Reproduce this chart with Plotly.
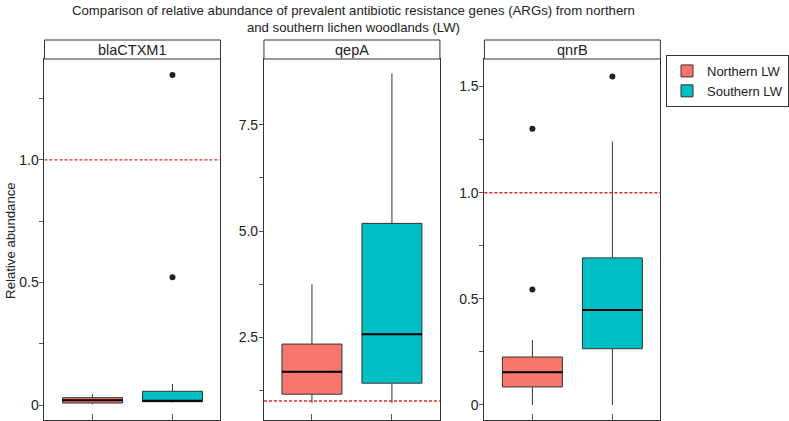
import plotly.graph_objects as go

# ---------------- data ----------------
genes = ["blaCTXM1", "qepA", "qnrB"]
groups = ["Northern LW", "Southern LW"]

north_lower = [0.003, 0.95, 0.0]
north_q1 = [0.008, 1.16, 0.085]
north_median = [0.019, 1.69, 0.154]
north_q3 = [0.030, 2.34, 0.226]
north_upper = [0.044, 3.75, 0.306]
north_outliers = [[], [], [0.544, 1.301]]

south_lower = [0.010, 0.95, 0.0]
south_q1 = [0.0135, 1.42, 0.265]
south_median = [0.0175, 2.57, 0.447]
south_q3 = [0.056, 5.18, 0.693]
south_upper = [0.086, 8.71, 1.241]
south_outliers = [[0.521, 1.347], [], [1.548]]

reference_level = 1.0

tick_vals = [
    [0, 0.25, 0.5, 0.75, 1.0, 1.25],
    [1.25, 2.5, 3.75, 5.0, 6.25, 7.5],
    [0, 0.25, 0.5, 0.75, 1.0, 1.25, 1.5],
]
tick_text = [
    ["0", "", "0.5", "", "1.0", ""],
    ["", "2.5", "", "5.0", "", "7.5"],
    ["0", "", "0.5", "", "1.0", "", "1.5"],
]

# ---------------- layout / style ----------------
W, H = 789, 421
FONT = "Liberation Sans, Arial, Helvetica, sans-serif"
colors = ["#F8766D", "#00BFC4"]
panel_px = [(45, 223), (267, 445), (490, 668)]
plot_top_px, plot_bot_px = 59, 420
strip_top_px = 40
y_ranges = [(-0.0612, 1.412), (0.553, 9.05), (-0.0707, 1.630)]
box_w = 0.75


def px_x(p):
    return p / W


def px_y(p):
    return (H - p) / H


fig = go.Figure()
shapes = []
annotations = []

stats = [
    (north_lower, north_q1, north_median, north_q3, north_upper, north_outliers),
    (south_lower, south_q1, south_median, south_q3, south_upper, south_outliers),
]

for i, gene in enumerate(genes):
    xa = "x" if i == 0 else f"x{i+1}"
    ya = "y" if i == 0 else f"y{i+1}"
    for g, (lo, q1, med, q3, up, outl) in enumerate(stats):
        xpos = g + 1
        fig.add_trace(go.Box(
            x=[xpos], q1=[q1[i]], median=[med[i]], q3=[q3[i]],
            lowerfence=[lo[i]], upperfence=[up[i]],
            width=box_w, whiskerwidth=0,
            fillcolor=colors[g],
            line=dict(color="#333333", width=1),
            name=groups[g],
            showlegend=(i == 0),
            boxpoints=False,
            xaxis=xa, yaxis=ya, hoverinfo="skip",
        ))
        if outl[i]:
            fig.add_trace(go.Scatter(
                x=[xpos] * len(outl[i]), y=outl[i], mode="markers",
                marker=dict(color="#222222", size=6),
                showlegend=False, xaxis=xa, yaxis=ya, hoverinfo="skip",
            ))
        # thick median line
        shapes.append(dict(
            type="line", xref=xa, yref=ya,
            x0=xpos - box_w / 2, x1=xpos + box_w / 2,
            y0=med[i], y1=med[i],
            line=dict(color="black", width=2), layer="above",
        ))
    # reference dashed line
    shapes.append(dict(
        type="line", xref=f"{xa} domain", yref=ya,
        x0=0, x1=1, y0=reference_level, y1=reference_level,
        line=dict(color="#E0262B", width=1.3, dash="3px,2px"), layer="above",
    ))
    # strip
    x0p, x1p = panel_px[i]
    shapes.append(dict(
        type="rect", xref="paper", yref="paper",
        x0=px_x(x0p), x1=px_x(x1p), y0=px_y(plot_top_px), y1=px_y(strip_top_px),
        line=dict(color="#333333", width=1), fillcolor="white",
    ))
    annotations.append(dict(
        text=gene, xref="paper", yref="paper",
        x=(px_x(x0p) + px_x(x1p)) / 2, y=(px_y(plot_top_px) + px_y(strip_top_px)) / 2,
        showarrow=False, xanchor="center", yanchor="middle",
        font=dict(family=FONT, size=14.5, color="#222222"),
    ))

    axis_common = dict(
        showgrid=False, zeroline=False, showline=True, mirror=True,
        linecolor="#333333", linewidth=1,
    )
    fig.layout[f"xaxis{'' if i == 0 else i+1}"] = dict(
        domain=[px_x(x0p), px_x(x1p)], range=[0.4, 2.6],
        anchor=ya, tickvals=[1, 2], ticktext=["", ""], showticklabels=False,
        ticks="inside", ticklen=6, tickcolor="#555555", fixedrange=True,
        **axis_common,
    )
    fig.layout[f"yaxis{'' if i == 0 else i+1}"] = dict(
        domain=[px_y(plot_bot_px), px_y(plot_top_px)], range=list(y_ranges[i]),
        anchor=xa, tickvals=tick_vals[i], ticktext=tick_text[i],
        ticks="outside", ticklen=4, tickcolor="#555555",
        ticklabelstandoff=-2,
        tickfont=dict(family=FONT, size=14, color="#222222"),
        **axis_common,
    )

annotations.append(dict(
    text="Comparison of relative abundance of prevalent antibiotic resistance genes (ARGs) from northern"
         "<br>and southern lichen woodlands (LW)",
    xref="paper", yref="paper", x=px_x(358), y=px_y(1),
    xanchor="center", yanchor="top", showarrow=False, align="center",
    font=dict(family=FONT, size=13.2, color="#222222"),
))
annotations.append(dict(
    text="Relative abundance", xref="paper", yref="paper",
    x=px_x(10), y=px_y(240), textangle=-90, showarrow=False,
    xanchor="center", yanchor="middle",
    font=dict(family=FONT, size=13.2, color="#222222"),
))

fig.update_layout(
    width=W, height=H,
    margin=dict(l=0, r=0, t=0, b=0),
    paper_bgcolor="white", plot_bgcolor="white",
    shapes=shapes, annotations=annotations,
    showlegend=True,
    legend=dict(
        x=px_x(674), y=px_y(55), xanchor="left", yanchor="top",
        bordercolor="#333333", borderwidth=1, bgcolor="white",
        font=dict(family=FONT, size=13, color="#222222"),
        tracegroupgap=0, itemwidth=30,
        itemclick=False, itemdoubleclick=False,
    ),
    boxmode="overlay",
)

fig.write_html("out.html", config={"displayModeBar": False})
